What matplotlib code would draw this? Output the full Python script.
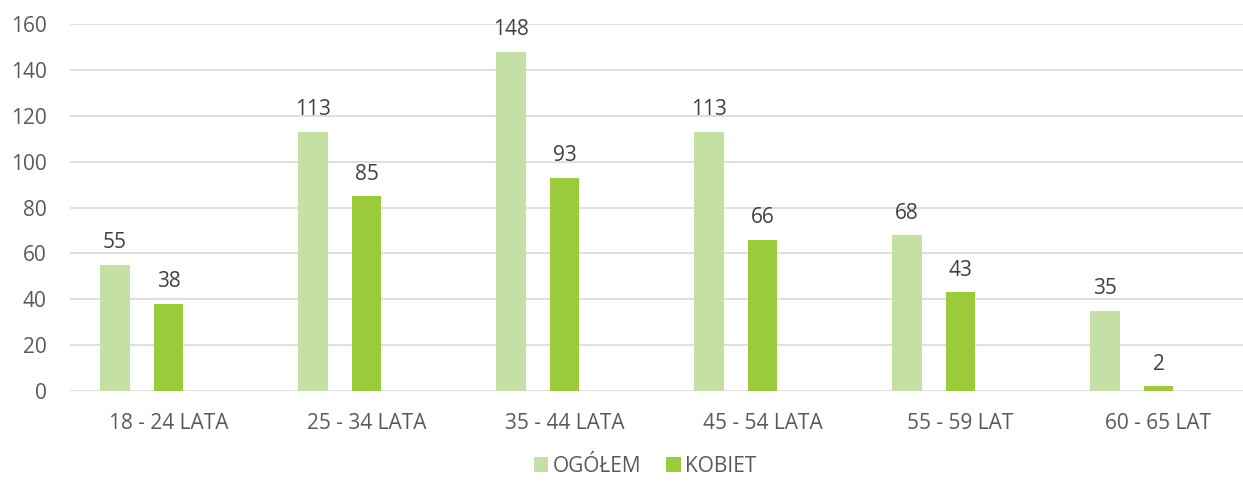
import matplotlib.pyplot as plt
import numpy as np

plt.rcParams['font.family'] = ['Open Sans', 'DejaVu Sans']

categories = ['18 - 24 LATA', '25 - 34 LATA', '35 - 44 LATA', '45 - 54 LATA', '55 - 59 LAT', '60 - 65 LAT']
ogolem = [55, 113, 148, 113, 68, 35]
kobiet = [38, 85, 93, 66, 43, 2]

c_light = '#C5E0A5'
c_dark = '#9BCB3B'
txt = '#595959'
fs = 15

fig = plt.figure(figsize=(12.43, 4.84), dpi=100)
ax = fig.add_axes([69.5/1243, 1-391/484, 1188/1243, (391-24)/484])

x = np.arange(len(categories))
w = 0.15
b1 = ax.bar(x - 0.27, ogolem, w, color=c_light, label='OGÓŁEM', zorder=3)
b2 = ax.bar(x, kobiet, w, color=c_dark, label='KOBIET', zorder=3)

for bars in (b1, b2):
    for r in bars:
        ax.text(r.get_x() + r.get_width()/2, r.get_height() + 5, str(int(r.get_height())),
                ha='center', va='bottom', fontsize=fs, color='#404040')

ax.set_xlim(-0.5, 5.5)
ax.set_ylim(0, 160)
ax.set_yticks(range(0, 161, 20))
ax.set_xticks(x)
ax.set_xticklabels(categories)
ax.grid(axis='y', color='#D9D9D9', lw=1.2, zorder=0)
for s in ax.spines.values():
    s.set_visible(False)
ax.tick_params(length=0, labelsize=fs, labelcolor=txt)
ax.tick_params(axis='x', pad=16)
ax.tick_params(axis='y', pad=16.5)

fig.legend(loc='center', bbox_to_anchor=(645/1243, 1-466/484), ncol=2, frameon=False,
           fontsize=fs, labelcolor=txt, handlelength=0.7, handleheight=0.7,
           handletextpad=0.2, columnspacing=1.2)

fig.savefig('out.png', dpi=100)
